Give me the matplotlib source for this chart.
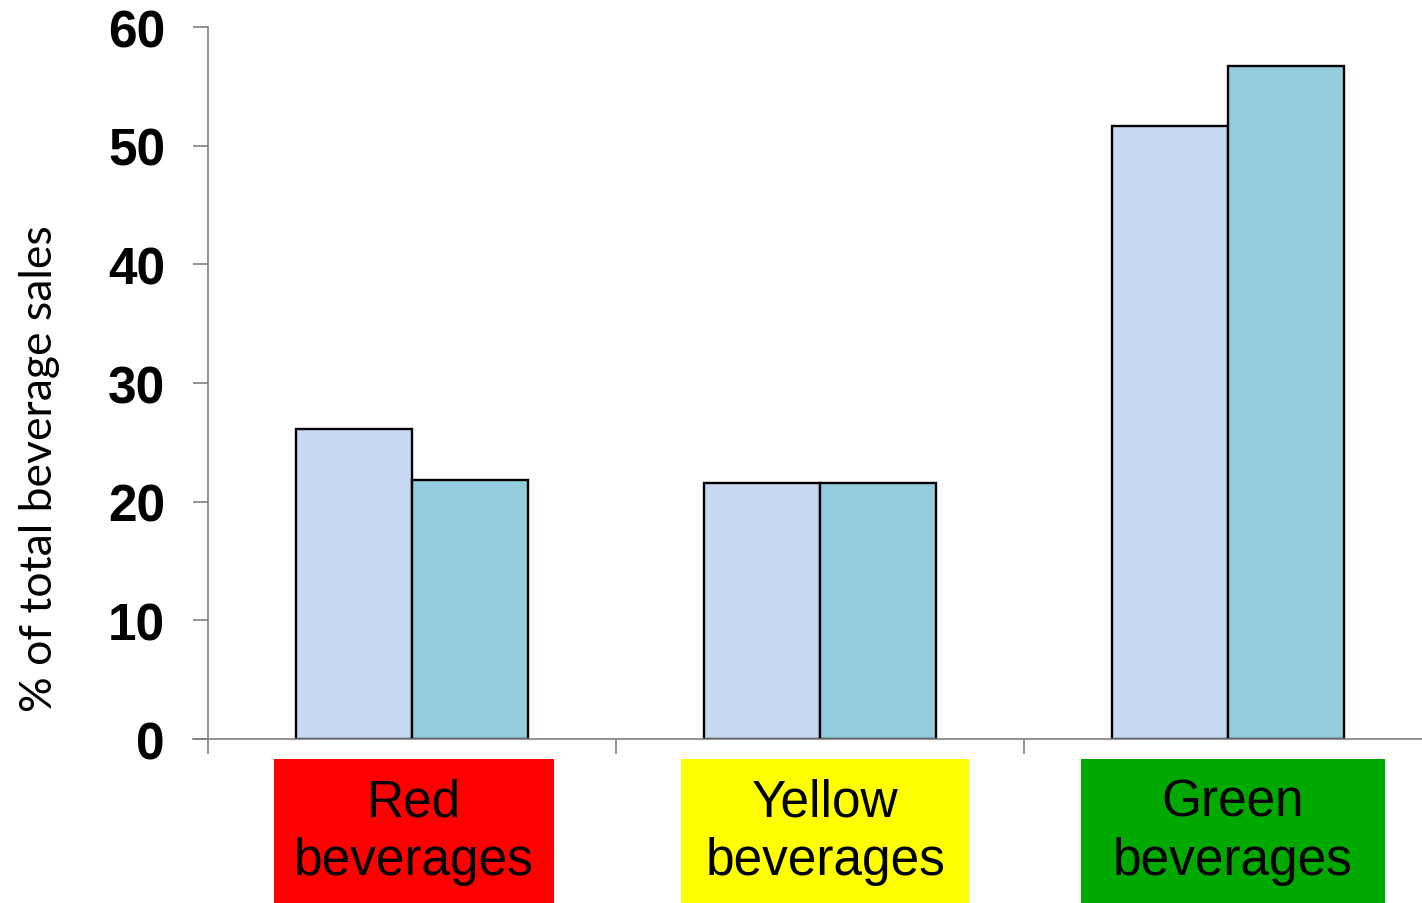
import matplotlib.pyplot as plt
import matplotlib.transforms as mtransforms
from matplotlib.patches import Rectangle

# datos del grafico
categorias = ['Red\nbeverages', 'Yellow\nbeverages', 'Green\nbeverages']
serie_1 = [26.1, 21.6, 51.7]
serie_2 = [21.8, 21.6, 56.7]
colores_caja = ['#FF0000', '#FFFF00', '#00A800']
cajas_izq = [0.162, 0.160, 0.140]
cajas_ancho = [0.685, 0.705, 0.744]
yticks = [0, 10, 20, 30, 40, 50, 60]

fig = plt.figure(figsize=(14.22, 9.04), dpi=100)
ax = fig.add_axes([0.1357, 0.1814, 0.8643, 0.7876])

ancho = 0.285
pos = [i + 0.5 for i in range(len(categorias))]
ax.bar([p - ancho / 2 for p in pos], serie_1, width=ancho, color='#C6D9F0',
       edgecolor='black', linewidth=1.7)
ax.bar([p + ancho / 2 for p in pos], serie_2, width=ancho, color='#93CDDD',
       edgecolor='black', linewidth=1.7)

ax.set_xlim(-0.037, 2.975)
ax.set_ylim(0, 60)

# ejes al estilo excel
for lado in ['top', 'right']:
    ax.spines[lado].set_visible(False)
ax.spines['left'].set_position(('data', 0))
ax.spines['left'].set_color('#7F7F7F')
ax.spines['bottom'].set_color('#7F7F7F')
ax.spines['left'].set_linewidth(1.2)
ax.spines['bottom'].set_linewidth(1.2)

ax.set_yticks(yticks)
ax.set_yticklabels([str(t) for t in yticks], fontfamily='Liberation Sans',
                   fontweight='bold', fontsize=37)
ax.tick_params(axis='y', direction='out', length=11, width=1.2,
               color='#7F7F7F', pad=20)
ax.set_xticks([0, 1, 2])
ax.set_xticklabels([])
ax.tick_params(axis='x', direction='out', length=11, width=1.2,
               color='#7F7F7F')

fig.text(0.0275, 0.482, '% of total beverage sales', rotation=90,
         fontfamily='Lato', fontsize=32, ha='center', va='center')

# cajas de color con las etiquetas
trans = mtransforms.blended_transform_factory(ax.transData, fig.transFigure)
for i, (cat, col) in enumerate(zip(categorias, colores_caja)):
    x0 = i + cajas_izq[i]
    r = Rectangle((x0, 0.0), cajas_ancho[i], 1 - 760 / 904, transform=trans,
                  facecolor=col, edgecolor='none', clip_on=False)
    fig.add_artist(r)
    fig.text(x0 + cajas_ancho[i] / 2, 1 - 832 / 904, cat, transform=trans,
             ha='center', va='center', fontfamily='Liberation Sans',
             fontsize=37, linespacing=1.25)

plt.savefig('out.png', dpi=100)
